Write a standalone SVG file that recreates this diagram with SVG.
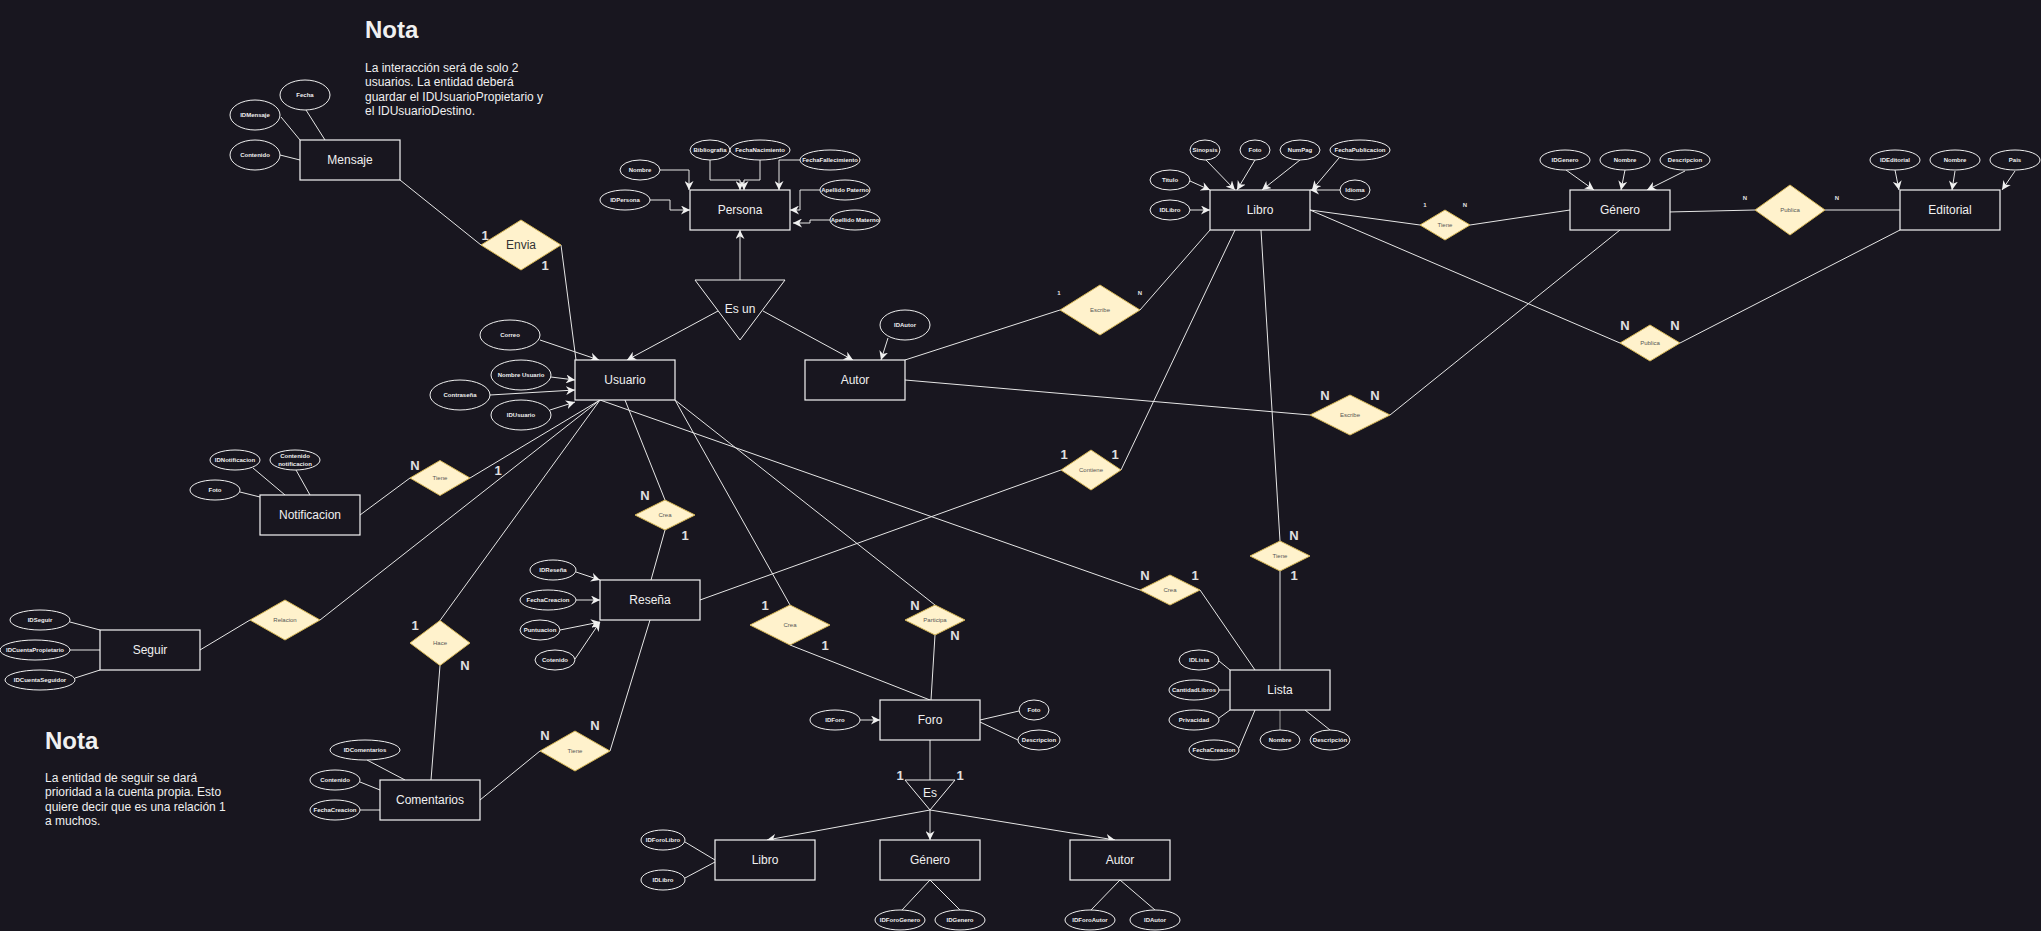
<svg xmlns="http://www.w3.org/2000/svg" width="2041" height="931" viewBox="0 0 2041 931">
<defs>
<marker id="arr" viewBox="0 0 10 10" refX="10" refY="5" markerWidth="9" markerHeight="9" markerUnits="userSpaceOnUse" orient="auto">
<path d="M0,0 L10,5 L0,10 L3,5 z" fill="#f0f0f0"/>
</marker>
<style>
text{font-family:"Liberation Sans",Arial,sans-serif;dominant-baseline:central;text-anchor:middle}
.ent rect{fill:#18161f;stroke:#f5f5f5;stroke-width:1.2}
.ent text{font-size:12px;fill:#f0f0f0}
.at ellipse{fill:#18161f;stroke:#f0f0f0;stroke-width:1}
.at text{font-size:6px;font-weight:bold;fill:#f0f0f0}
.rel polygon{fill:#fff2cc;stroke:#d6b656;stroke-width:1}
.rel text{font-size:6px;fill:#555}
.conn line,.conn polyline{stroke:#e6e6e6;stroke-width:1;fill:none}
.conn .a{marker-end:url(#arr)}
.card text{font-size:13px;font-weight:bold;fill:#e0e0e0}
.card text.s{font-size:6px}
.note text{text-anchor:start;fill:#f0f0f0}
.note .h{font-size:24px;font-weight:bold}
.note .p{font-size:12px}
</style>
</defs>
<rect width="2041" height="931" fill="#18161f"/>

<g class="conn" id="connectors">
<line x1="281" y1="117" x2="300" y2="140"/>
<line x1="306" y1="110" x2="325" y2="140"/>
<line x1="280" y1="155" x2="300" y2="160"/>
<line x1="400" y1="180" x2="481" y2="245"/>
<line x1="561" y1="245" x2="576" y2="360"/>
<polyline class="a" points="660,170 689,170 689,190"/>
<polyline class="a" points="650,200 670,200 670,210 690,210"/>
<polyline class="a" points="710,160 710,180 740,180 740,190"/>
<polyline class="a" points="760,160 760,180 744,180 744,190"/>
<polyline class="a" points="800,160 779,160 779,190"/>
<polyline class="a" points="820,190 800,190 800,210 790,210"/>
<polyline class="a" points="830,220 810,220 810,223 793,223"/>
<line class="a" x1="740" y1="280" x2="740" y2="230"/>
<line class="a" x1="718" y1="311" x2="627" y2="360"/>
<line class="a" x1="763" y1="311" x2="853" y2="360"/>
<line class="a" x1="888" y1="338" x2="881" y2="360"/>
<line class="a" x1="540" y1="340" x2="599" y2="360"/>
<line class="a" x1="551" y1="377" x2="575" y2="380"/>
<line class="a" x1="490" y1="395" x2="575" y2="390"/>
<line class="a" x1="550" y1="410" x2="575" y2="402"/>
<line x1="600" y1="400" x2="470" y2="478"/>
<line x1="410" y1="478" x2="360" y2="515"/>
<line x1="253" y1="468" x2="285" y2="495"/>
<line x1="296" y1="470" x2="310" y2="495"/>
<line x1="240" y1="492" x2="260" y2="497"/>
<line x1="600" y1="400" x2="320" y2="620"/>
<line x1="250" y1="620" x2="200" y2="650"/>
<line x1="70" y1="622" x2="100" y2="630"/>
<line x1="70" y1="650" x2="100" y2="650"/>
<line x1="75" y1="678" x2="100" y2="670"/>
<line x1="600" y1="400" x2="440" y2="620.5"/>
<line x1="440" y1="665.5" x2="431" y2="780"/>
<line x1="367" y1="760" x2="405" y2="780"/>
<line x1="360" y1="782" x2="380" y2="790"/>
<line x1="360" y1="810" x2="380" y2="810"/>
<line x1="480" y1="800" x2="540" y2="751"/>
<line x1="610" y1="751" x2="650" y2="620"/>
<line x1="625" y1="400" x2="665" y2="500"/>
<line x1="665" y1="530" x2="651" y2="580"/>
<line class="a" x1="576" y1="572" x2="600" y2="580"/>
<line class="a" x1="576" y1="600" x2="600" y2="600"/>
<line class="a" x1="560" y1="630" x2="600" y2="622"/>
<line class="a" x1="575" y1="659" x2="600" y2="622"/>
<line x1="700" y1="600" x2="1061" y2="470"/>
<line x1="1121" y1="470" x2="1235" y2="230"/>
<line x1="675" y1="400" x2="790" y2="605"/>
<line x1="790" y1="645" x2="930" y2="700"/>
<line x1="675" y1="400" x2="935" y2="605"/>
<line x1="935" y1="635" x2="931" y2="700"/>
<line class="a" x1="860" y1="720" x2="880" y2="720"/>
<line x1="980" y1="720" x2="1019" y2="711"/>
<line x1="980" y1="722" x2="1018" y2="740"/>
<line x1="930" y1="740" x2="930" y2="780"/>
<line class="a" x1="930" y1="810" x2="767" y2="840"/>
<line class="a" x1="930" y1="810" x2="930" y2="840"/>
<line class="a" x1="930" y1="810" x2="1115" y2="840"/>
<line x1="685" y1="842" x2="715" y2="860"/>
<line x1="685" y1="878" x2="715" y2="862"/>
<line x1="930" y1="880" x2="902" y2="910"/>
<line x1="930" y1="880" x2="960" y2="910"/>
<line x1="1120" y1="880" x2="1091" y2="910"/>
<line x1="1120" y1="880" x2="1155" y2="910"/>
<line x1="600" y1="400" x2="1140" y2="590"/>
<line x1="1200" y1="590" x2="1255" y2="670"/>
<line x1="1280" y1="670" x2="1280" y2="571"/>
<line x1="1280" y1="541" x2="1261" y2="230"/>
<line x1="1219" y1="661" x2="1230" y2="670"/>
<line x1="1219" y1="690" x2="1230" y2="690"/>
<line x1="1219" y1="718" x2="1230" y2="710"/>
<line x1="1239" y1="748" x2="1255" y2="710"/>
<line x1="1280" y1="710" x2="1280" y2="730" style="stroke:#999"/>
<line x1="1305" y1="710" x2="1330" y2="730"/>
<line class="a" x1="1206" y1="160" x2="1235" y2="190"/>
<line class="a" x1="1255" y1="160" x2="1237" y2="190"/>
<line class="a" x1="1300" y1="160" x2="1262" y2="190"/>
<line class="a" x1="1339" y1="158" x2="1312" y2="190"/>
<line class="a" x1="1190" y1="181" x2="1210" y2="190"/>
<line class="a" x1="1190" y1="210" x2="1210" y2="210"/>
<line class="a" x1="1340" y1="190" x2="1310" y2="190"/>
<line x1="1310" y1="210" x2="1420" y2="225"/>
<line x1="1470" y1="225" x2="1570" y2="210"/>
<line class="a" x1="1566" y1="170" x2="1594" y2="190"/>
<line class="a" x1="1625" y1="170" x2="1621" y2="190"/>
<line class="a" x1="1685" y1="171" x2="1647" y2="190"/>
<line x1="1668" y1="212" x2="1755" y2="210"/>
<line x1="1825" y1="210" x2="1900" y2="210"/>
<line class="a" x1="1895" y1="170" x2="1899" y2="190"/>
<line class="a" x1="1955" y1="171" x2="1952" y2="190"/>
<line class="a" x1="2015" y1="171" x2="2002" y2="190"/>
<line x1="1310" y1="210" x2="1620" y2="343"/>
<line x1="1680" y1="343" x2="1900" y2="230"/>
<line x1="905" y1="360" x2="1060" y2="310"/>
<line x1="1140" y1="310" x2="1210" y2="230"/>
<line x1="905" y1="380" x2="1310" y2="415"/>
<line x1="1390" y1="415" x2="1620" y2="230"/>
</g>

<g class="note" id="nota1">
<text class="h" x="365" y="29">Nota</text>
<text class="p" x="365" y="68">La interacción será de solo 2</text>
<text class="p" x="365" y="82">usuarios. La entidad deberá</text>
<text class="p" x="365" y="97">guardar el IDUsuarioPropietario y</text>
<text class="p" x="365" y="111">el IDUsuarioDestino.</text>
</g>
<g class="note" id="nota2">
<text class="h" x="45" y="740">Nota</text>
<text class="p" x="45" y="778">La entidad de seguir se dará</text>
<text class="p" x="45" y="792">prioridad a la cuenta propia. Esto</text>
<text class="p" x="45" y="807">quiere decir que es una relación 1</text>
<text class="p" x="45" y="821">a muchos.</text>
</g>

<g id="mensaje" class="ent"><rect x="300" y="140" width="100" height="40"/><text x="350" y="160">Mensaje</text></g>
<g id="mensaje-attrs" class="at">
<ellipse cx="305" cy="95" rx="25" ry="15"/><text x="305" y="95">Fecha</text>
<ellipse cx="255" cy="115" rx="25" ry="15"/><text x="255" y="115">IDMensaje</text>
<ellipse cx="255" cy="155" rx="25" ry="15"/><text x="255" y="155">Contenido</text>
</g>
<g id="envia" class="rel"><polygon points="481,245 521,220 561,245 521,270"/><text x="521" y="245" style="font-size:12px;fill:#333">Envia</text></g>

<g id="persona" class="ent"><rect x="690" y="190" width="100" height="40"/><text x="740" y="210">Persona</text></g>
<g id="persona-attrs" class="at">
<ellipse cx="710" cy="150" rx="20" ry="10"/><text x="710" y="150">Bibliografia</text>
<ellipse cx="760" cy="150" rx="30" ry="10"/><text x="760" y="150">FechaNacimiento</text>
<ellipse cx="830" cy="160" rx="30" ry="10"/><text x="830" y="160">FechaFallecimiento</text>
<ellipse cx="640" cy="170" rx="20" ry="10"/><text x="640" y="170">Nombre</text>
<ellipse cx="625" cy="200" rx="25" ry="10"/><text x="625" y="200">IDPersona</text>
<ellipse cx="845" cy="190" rx="25" ry="10"/><text x="845" y="190">Apellido Paterno</text>
<ellipse cx="855" cy="220" rx="25" ry="10"/><text x="855" y="220">Apellido Materno</text>
</g>
<g id="esun"><polygon points="695,280 785,280 740,340" fill="#18161f" stroke="#f0f0f0"/><text x="740" y="309" style="font-size:12px;fill:#f0f0f0">Es un</text></g>

<g id="usuario" class="ent"><rect x="575" y="360" width="100" height="40"/><text x="625" y="380">Usuario</text></g>
<g id="usuario-attrs" class="at">
<ellipse cx="510" cy="335" rx="30" ry="15"/><text x="510" y="335">Correo</text>
<ellipse cx="521" cy="375" rx="30" ry="15"/><text x="521" y="375">Nombre Usuario</text>
<ellipse cx="460" cy="395" rx="30" ry="15"/><text x="460" y="395">Contraseña</text>
<ellipse cx="521" cy="415" rx="30" ry="15"/><text x="521" y="415">IDUsuario</text>
</g>

<g id="autor" class="ent"><rect x="805" y="360" width="100" height="40"/><text x="855" y="380">Autor</text></g>
<g id="autor-attrs" class="at"><ellipse cx="905" cy="325" rx="25" ry="15"/><text x="905" y="325">IDAutor</text></g>

<g id="notificacion" class="ent"><rect x="260" y="495" width="100" height="40"/><text x="310" y="515">Notificacion</text></g>
<g id="notificacion-attrs" class="at">
<ellipse cx="235" cy="460" rx="25" ry="10"/><text x="235" y="460">IDNotificacion</text>
<ellipse cx="295" cy="460" rx="25" ry="10"/><text x="295" y="456">Contenido</text><text x="295" y="464">notificacion</text>
<ellipse cx="215" cy="490" rx="25" ry="10"/><text x="215" y="490">Foto</text>
</g>
<g id="tiene-notif" class="rel"><polygon points="410,478 440,460.5 470,478 440,495.5"/><text x="440" y="478">Tiene</text></g>

<g id="seguir" class="ent"><rect x="100" y="630" width="100" height="40"/><text x="150" y="650">Seguir</text></g>
<g id="seguir-attrs" class="at">
<ellipse cx="40" cy="620" rx="30" ry="10"/><text x="40" y="620">IDSeguir</text>
<ellipse cx="35" cy="650" rx="35" ry="10"/><text x="35" y="650">IDCuentaPropietario</text>
<ellipse cx="40" cy="680" rx="35" ry="10"/><text x="40" y="680">IDCuentaSeguidor</text>
</g>
<g id="relacion" class="rel"><polygon points="250,620 285,600 320,620 285,640"/><text x="285" y="620">Relacion</text></g>

<g id="hace" class="rel"><polygon points="410,643 440,620.5 470,643 440,665.5"/><text x="440" y="643">Hace</text></g>
<g id="comentarios" class="ent"><rect x="380" y="780" width="100" height="40"/><text x="430" y="800">Comentarios</text></g>
<g id="comentarios-attrs" class="at">
<ellipse cx="365" cy="750" rx="35" ry="10"/><text x="365" y="750">IDComentarios</text>
<ellipse cx="335" cy="780" rx="25" ry="10"/><text x="335" y="780">Contenido</text>
<ellipse cx="335" cy="810" rx="25" ry="10"/><text x="335" y="810">FechaCreacion</text>
</g>
<g id="tiene-coment" class="rel"><polygon points="540,751 575,731 610,751 575,771"/><text x="575" y="751">Tiene</text></g>

<g id="resena" class="ent"><rect x="600" y="580" width="100" height="40"/><text x="650" y="600">Reseña</text></g>
<g id="resena-attrs" class="at">
<ellipse cx="553" cy="570" rx="23" ry="10"/><text x="553" y="570">IDReseña</text>
<ellipse cx="548" cy="600" rx="28" ry="10"/><text x="548" y="600">FechaCreacion</text>
<ellipse cx="540" cy="630" rx="20" ry="10"/><text x="540" y="630">Puntuacion</text>
<ellipse cx="555" cy="660" rx="20" ry="10"/><text x="555" y="660">Cotenido</text>
</g>
<g id="crea-resena" class="rel"><polygon points="635,515 665,500 695,515 665,530"/><text x="665" y="515">Crea</text></g>

<g id="crea-foro" class="rel"><polygon points="750,625 790,605 830,625 790,645"/><text x="790" y="625">Crea</text></g>
<g id="participa" class="rel"><polygon points="905,620 935,605 965,620 935,635"/><text x="935" y="620">Participa</text></g>
<g id="foro" class="ent"><rect x="880" y="700" width="100" height="40"/><text x="930" y="720">Foro</text></g>
<g id="foro-attrs" class="at">
<ellipse cx="835" cy="720" rx="25" ry="10"/><text x="835" y="720">IDForo</text>
<ellipse cx="1034" cy="710" rx="15" ry="10"/><text x="1034" y="710">Foto</text>
<ellipse cx="1039" cy="740" rx="21" ry="10"/><text x="1039" y="740">Descripcion</text>
</g>
<g id="es"><polygon points="905,780 955,780 930,810" fill="#18161f" stroke="#f0f0f0"/><text x="930" y="793" style="font-size:12px;fill:#f0f0f0">Es</text></g>

<g id="foro-libro" class="ent"><rect x="715" y="840" width="100" height="40"/><text x="765" y="860">Libro</text></g>
<g id="foro-libro-attrs" class="at">
<ellipse cx="663" cy="840" rx="22" ry="10"/><text x="663" y="840">IDForoLibro</text>
<ellipse cx="663" cy="880" rx="22" ry="10"/><text x="663" y="880">IDLibro</text>
</g>
<g id="foro-genero" class="ent"><rect x="880" y="840" width="100" height="40"/><text x="930" y="860">Género</text></g>
<g id="foro-genero-attrs" class="at">
<ellipse cx="900" cy="920" rx="25" ry="10"/><text x="900" y="920">IDForoGenero</text>
<ellipse cx="960" cy="920" rx="25" ry="10"/><text x="960" y="920">IDGenero</text>
</g>
<g id="foro-autor" class="ent"><rect x="1070" y="840" width="100" height="40"/><text x="1120" y="860">Autor</text></g>
<g id="foro-autor-attrs" class="at">
<ellipse cx="1090" cy="920" rx="25" ry="10"/><text x="1090" y="920">IDForoAutor</text>
<ellipse cx="1155" cy="920" rx="25" ry="10"/><text x="1155" y="920">IDAutor</text>
</g>

<g id="lista" class="ent"><rect x="1230" y="670" width="100" height="40"/><text x="1280" y="690">Lista</text></g>
<g id="lista-attrs" class="at">
<ellipse cx="1199" cy="660" rx="20" ry="10"/><text x="1199" y="660">IDLista</text>
<ellipse cx="1194" cy="690" rx="25" ry="10"/><text x="1194" y="690">CantidadLibros</text>
<ellipse cx="1194" cy="720" rx="25" ry="10"/><text x="1194" y="720">Privacidad</text>
<ellipse cx="1214" cy="750" rx="25" ry="10"/><text x="1214" y="750">FechaCreacion</text>
<ellipse cx="1280" cy="740" rx="20" ry="10"/><text x="1280" y="740">Nombre</text>
<ellipse cx="1330" cy="740" rx="20" ry="10"/><text x="1330" y="740">Descripción</text>
</g>
<g id="crea-lista" class="rel"><polygon points="1140,590 1170,575 1200,590 1170,605"/><text x="1170" y="590">Crea</text></g>
<g id="tiene-lista" class="rel"><polygon points="1250,556 1280,541 1310,556 1280,571"/><text x="1280" y="556">Tiene</text></g>

<g id="libro" class="ent"><rect x="1210" y="190" width="100" height="40"/><text x="1260" y="210">Libro</text></g>
<g id="libro-attrs" class="at">
<ellipse cx="1205" cy="150" rx="15" ry="10"/><text x="1205" y="150">Sinopsis</text>
<ellipse cx="1255" cy="150" rx="15" ry="10"/><text x="1255" y="150">Foto</text>
<ellipse cx="1300" cy="150" rx="20" ry="10"/><text x="1300" y="150">NumPag</text>
<ellipse cx="1360" cy="150" rx="30" ry="10"/><text x="1360" y="150">FechaPublicacion</text>
<ellipse cx="1170" cy="180" rx="20" ry="10"/><text x="1170" y="180">Titulo</text>
<ellipse cx="1170" cy="210" rx="20" ry="10"/><text x="1170" y="210">IDLibro</text>
<ellipse cx="1355" cy="190" rx="15" ry="10"/><text x="1355" y="190">Idioma</text>
</g>
<g id="tiene-genero" class="rel"><polygon points="1420,225 1445,210 1470,225 1445,240"/><text x="1445" y="225">Tiene</text></g>

<g id="genero" class="ent"><rect x="1570" y="190" width="100" height="40"/><text x="1620" y="210">Género</text></g>
<g id="genero-attrs" class="at">
<ellipse cx="1565" cy="160" rx="25" ry="10"/><text x="1565" y="160">IDGenero</text>
<ellipse cx="1625" cy="160" rx="25" ry="10"/><text x="1625" y="160">Nombre</text>
<ellipse cx="1685" cy="160" rx="25" ry="10"/><text x="1685" y="160">Descripcion</text>
</g>
<g id="publica-genero" class="rel"><polygon points="1755,210 1790,185 1825,210 1790,235"/><text x="1790" y="210">Publica</text></g>

<g id="editorial" class="ent"><rect x="1900" y="190" width="100" height="40"/><text x="1950" y="210">Editorial</text></g>
<g id="editorial-attrs" class="at">
<ellipse cx="1895" cy="160" rx="25" ry="10"/><text x="1895" y="160">IDEditorial</text>
<ellipse cx="1955" cy="160" rx="25" ry="10"/><text x="1955" y="160">Nombre</text>
<ellipse cx="2015" cy="160" rx="25" ry="10"/><text x="2015" y="160">Pais</text>
</g>
<g id="publica-libro" class="rel"><polygon points="1620,343 1650,325 1680,343 1650,361"/><text x="1650" y="343">Publica</text></g>
<g id="escribe-libro" class="rel"><polygon points="1060,310 1100,285 1140,310 1100,335"/><text x="1100" y="310">Escribe</text></g>
<g id="escribe-genero" class="rel"><polygon points="1310,415 1350,395 1390,415 1350,435"/><text x="1350" y="415">Escribe</text></g>
<g id="contiene" class="rel"><polygon points="1061,470 1091,450 1121,470 1091,490"/><text x="1091" y="470">Contiene</text></g>

<g class="card" id="cardinalities">
<text x="485" y="235">1</text><text x="545" y="265">1</text>
<text x="415" y="465">N</text><text x="498" y="470">1</text>
<text x="415" y="625">1</text><text x="465" y="665">N</text>
<text x="645" y="495">N</text><text x="685" y="535">1</text>
<text x="545" y="735">N</text><text x="595" y="725">N</text>
<text x="765" y="605">1</text><text x="825" y="645">1</text>
<text x="915" y="605">N</text><text x="955" y="635">N</text>
<text x="900" y="775">1</text><text x="960" y="775">1</text>
<text x="1145" y="575">N</text><text x="1195" y="575">1</text>
<text x="1294" y="535">N</text><text x="1294" y="575">1</text>
<text x="1064" y="454">1</text><text x="1115" y="454">1</text>
<text x="1325" y="395">N</text><text x="1375" y="395">N</text>
<text x="1625" y="325">N</text><text x="1675" y="325">N</text>
<text class="s" x="1059" y="293">1</text><text class="s" x="1140" y="293">N</text>
<text class="s" x="1425" y="205">1</text><text class="s" x="1465" y="205">N</text>
<text class="s" x="1745" y="198">N</text><text class="s" x="1837" y="198">N</text>
</g>
</svg>
